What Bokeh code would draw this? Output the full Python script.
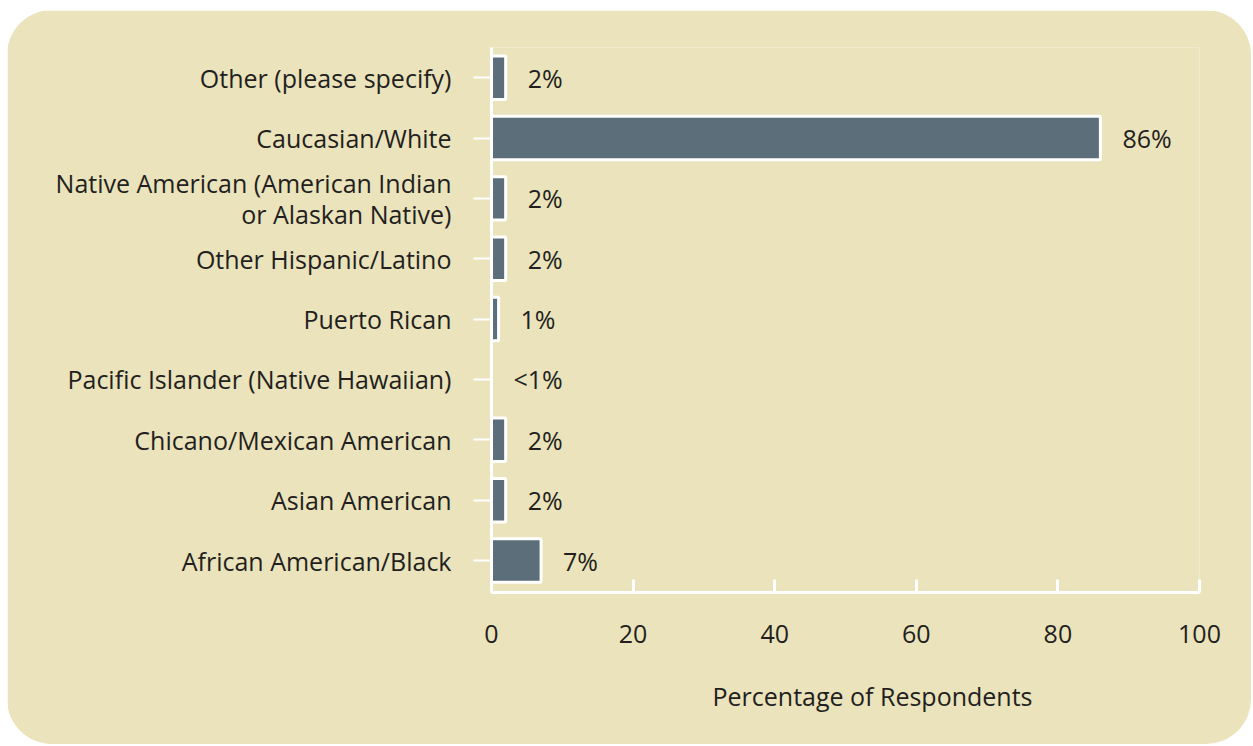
from bokeh.plotting import figure
from bokeh.models import Range1d, FixedTicker, Title, ColumnDataSource
from bokeh.core.properties import value
from bokeh.embed import file_html
from bokeh.resources import INLINE

categories = [
    "African American/Black",
    "Asian American",
    "Chicano/Mexican American",
    "Pacific Islander (Native Hawaiian)",
    "Puerto Rican",
    "Other Hispanic/Latino",
    "Native American (American Indian\nor Alaskan Native)",
    "Caucasian/White",
    "Other (please specify)",
]
percentages = [7, 2, 2, 0, 1, 2, 2, 86, 2]
value_labels = ["7%", "2%", "2%", "<1%", "1%", "2%", "2%", "86%", "2%"]
x_ticks = [0, 20, 40, 60, 80, 100]
x_title = "Percentage of Respondents"

BG = "#EAE3BB"
BAR = "#5B6E7A"
TXT = "#231F20"
FONT = "Open Sans"
FS = "25px"

pos = list(range(len(categories)))
src = ColumnDataSource(dict(y=pos, v=percentages, lab=value_labels))

p = figure(
    width=1244, height=734,
    output_backend="svg", toolbar_location=None,
    x_range=Range1d(0, 100), y_range=Range1d(-0.53, 8.5),
    min_border_left=484, min_border_right=52,
    min_border_top=37, min_border_bottom=152,
    background_fill_color=BG, border_fill_color=BG,
    outline_line_color=None,
    styles={"border-radius": "45px", "overflow": "hidden",
            "margin-left": "7px", "margin-top": "10px"},
)
p.grid.visible = False

p.hbar(y="y", right="v", left=0, height=0.72, source=src,
       fill_color=BAR, line_color="white", line_width=3)
p.text(x="v", y="y", text="lab", source=src, x_offset=22,
       text_font=value(FONT), text_font_size=FS, text_color=TXT,
       text_align="left", text_baseline="middle")

# y axis
ya = p.yaxis[0]
ya.ticker = FixedTicker(ticks=pos)
ya.major_label_overrides = {i: c for i, c in enumerate(categories)}
ya.axis_line_color = "white"
ya.axis_line_width = 3
ya.major_tick_line_color = "white"
ya.major_tick_line_width = 2
ya.major_tick_in = 0
ya.major_tick_out = 18
ya.minor_tick_line_color = None
ya.major_label_standoff = 22
ya.major_label_text_font = FONT
ya.major_label_text_font_size = FS
ya.major_label_text_color = TXT
ya.major_label_text_line_height = 0.91

# x axis
xa = p.xaxis[0]
xa.ticker = FixedTicker(ticks=x_ticks)
xa.axis_line_color = "white"
xa.axis_line_width = 3
xa.major_tick_line_color = "white"
xa.major_tick_line_width = 3
xa.major_tick_in = 13
xa.major_tick_out = 0
xa.minor_tick_line_color = None
xa.major_label_standoff = 32
xa.major_label_text_font = FONT
xa.major_label_text_font_size = FS
xa.major_label_text_color = TXT

p.add_layout(Title(text=x_title, align="left", offset=221, standoff=62,
                   vertical_align="bottom",
                   text_font=FONT, text_font_size=FS, text_font_style="normal",
                   text_color=TXT), "below")

open("out.html", "w").write(file_html(p, INLINE))
